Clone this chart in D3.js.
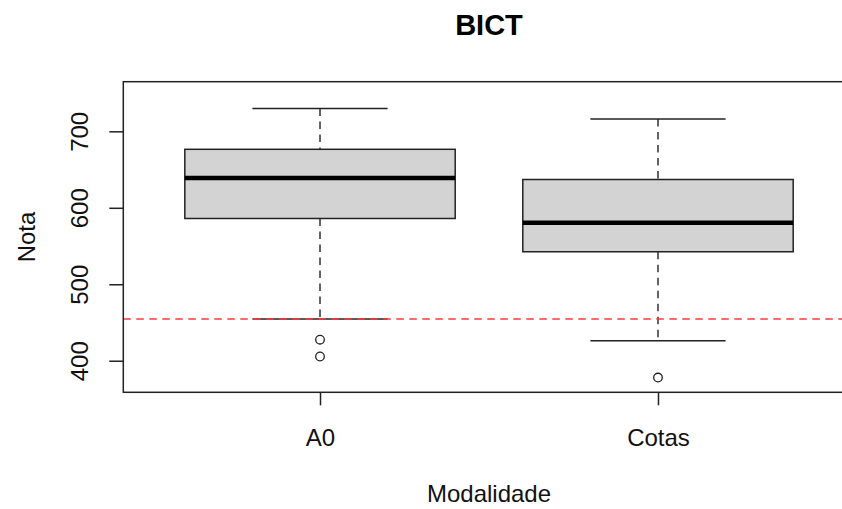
<!DOCTYPE html>
<html>
<head>
<meta charset="utf-8">
<script src="https://cdn.jsdelivr.net/npm/d3@7"></script>
<style>
  html, body { margin: 0; padding: 0; background: #fff; }
  svg { display: block; font-family: "Liberation Sans", Arial, sans-serif; }
</style>
</head>
<body>
<svg id="chart" width="842" height="509"></svg>
<script>
// Exam scores ("Nota") by admission type ("Modalidade") for BICT
const categories = ["A0", "Cotas"];
const whiskerHigh = [730, 716];
const q3 = [676.5, 637];
const median = [639, 580.5];
const q1 = [586, 542.5];
const whiskerLow = [454.5, 426];
const outliers = [[427.5, 405.5], [378]];
const cutoff = 454.5;
const yTicks = [400, 500, 600, 700];

const title = "BICT";
const xTitle = "Modalidade";
const yTitle = "Nota";

const svg = d3.select("#chart");

const plot = { left: 123.3, right: 854.7, top: 81.7, bottom: 392.3 };

const x = d3.scalePoint()
  .domain(categories)
  .range([plot.left, plot.right])
  .padding(0.582);

const y = d3.scaleLinear()
  .domain([358.7, 764.9])
  .range([plot.bottom, plot.top]);

const step = x.step();
const boxW = step * 0.8;
const capW = boxW / 2;

const ink = "#222";
const fontSize = 24;

svg.append("clipPath").attr("id", "plotclip")
  .append("rect")
  .attr("x", plot.left).attr("y", plot.top)
  .attr("width", plot.right - plot.left).attr("height", plot.bottom - plot.top);

const data = categories.map((c, i) => ({
  c, hi: whiskerHigh[i], q3: q3[i], med: median[i], q1: q1[i], lo: whiskerLow[i], out: outliers[i]
}));

const g = svg.append("g").attr("clip-path", "url(#plotclip)");

// dashed whiskers
g.selectAll("line.wh-up").data(data).join("line")
  .attr("x1", d => x(d.c)).attr("x2", d => x(d.c))
  .attr("y1", d => y(d.hi)).attr("y2", d => y(d.q3))
  .attr("stroke", ink).attr("stroke-width", 1.4).attr("stroke-dasharray", "7.5,5.5");
g.selectAll("line.wh-lo").data(data).join("line")
  .attr("x1", d => x(d.c)).attr("x2", d => x(d.c))
  .attr("y1", d => y(d.q1)).attr("y2", d => y(d.lo))
  .attr("stroke", ink).attr("stroke-width", 1.4).attr("stroke-dasharray", "7.5,5.5");

// whisker caps
g.selectAll("line.cap-hi").data(data).join("line")
  .attr("x1", d => x(d.c) - capW / 2).attr("x2", d => x(d.c) + capW / 2)
  .attr("y1", d => y(d.hi)).attr("y2", d => y(d.hi))
  .attr("stroke", ink).attr("stroke-width", 1.5);
g.selectAll("line.cap-lo").data(data).join("line")
  .attr("x1", d => x(d.c) - capW / 2).attr("x2", d => x(d.c) + capW / 2)
  .attr("y1", d => y(d.lo)).attr("y2", d => y(d.lo))
  .attr("stroke", ink).attr("stroke-width", 1.5);

// boxes
g.selectAll("rect.box").data(data).join("rect")
  .attr("x", d => x(d.c) - boxW / 2).attr("width", boxW)
  .attr("y", d => y(d.q3)).attr("height", d => y(d.q1) - y(d.q3))
  .attr("fill", "#d3d3d3").attr("stroke", ink).attr("stroke-width", 1.5);

// medians
g.selectAll("line.med").data(data).join("line")
  .attr("x1", d => x(d.c) - boxW / 2).attr("x2", d => x(d.c) + boxW / 2)
  .attr("y1", d => y(d.med)).attr("y2", d => y(d.med))
  .attr("stroke", "#000").attr("stroke-width", 4.5);

// outliers
const pts = data.flatMap(d => d.out.map(v => ({ c: d.c, v })));
g.selectAll("circle.out").data(pts).join("circle")
  .attr("cx", d => x(d.c)).attr("cy", d => y(d.v)).attr("r", 4.3)
  .attr("fill", "none").attr("stroke", ink).attr("stroke-width", 1.3);

// reference line
g.append("line")
  .attr("x1", plot.left).attr("x2", plot.right)
  .attr("y1", y(cutoff)).attr("y2", y(cutoff))
  .attr("stroke", "#ff3b3b").attr("stroke-width", 1.4).attr("stroke-dasharray", "7.5,5.5");

// plot frame
svg.append("rect")
  .attr("x", plot.left).attr("y", plot.top)
  .attr("width", plot.right - plot.left).attr("height", plot.bottom - plot.top)
  .attr("fill", "none").attr("stroke", ink).attr("stroke-width", 1.5);

// y axis
const yAxis = svg.append("g")
  .attr("transform", `translate(${plot.left},0)`)
  .call(d3.axisLeft(y).tickValues(yTicks).tickSize(14).tickFormat(d3.format("d")));
yAxis.select(".domain").remove();
yAxis.selectAll(".tick line").attr("stroke", ink).attr("stroke-width", 1.5);
yAxis.selectAll(".tick text")
  .attr("x", null).attr("dy", null)
  .attr("transform", "translate(-35,0) rotate(-90)")
  .attr("text-anchor", "middle")
  .attr("font-size", fontSize).attr("font-family", "Liberation Sans, Arial, sans-serif")
  .attr("fill", "#111");

// x axis
const xAxis = svg.append("g")
  .attr("transform", `translate(0,${plot.bottom})`)
  .call(d3.axisBottom(x).tickSize(13));
xAxis.select(".domain").remove();
xAxis.selectAll(".tick line").attr("stroke", ink).attr("stroke-width", 1.5);
xAxis.selectAll(".tick text")
  .attr("y", 53.5).attr("dy", null)
  .attr("font-size", fontSize).attr("font-family", "Liberation Sans, Arial, sans-serif")
  .attr("fill", "#111");

// titles
svg.append("text")
  .attr("x", (plot.left + plot.right) / 2).attr("y", 34.5)
  .attr("text-anchor", "middle")
  .attr("font-size", 29).attr("font-weight", "bold").attr("fill", "#000")
  .text(title);

svg.append("text")
  .attr("x", (plot.left + plot.right) / 2).attr("y", 502)
  .attr("text-anchor", "middle")
  .attr("font-size", fontSize).attr("fill", "#111")
  .text(xTitle);

svg.append("text")
  .attr("transform", `translate(35,${(plot.top + plot.bottom) / 2}) rotate(-90)`)
  .attr("text-anchor", "middle")
  .attr("font-size", fontSize).attr("fill", "#111")
  .text(yTitle);
</script>
</body>
</html>
